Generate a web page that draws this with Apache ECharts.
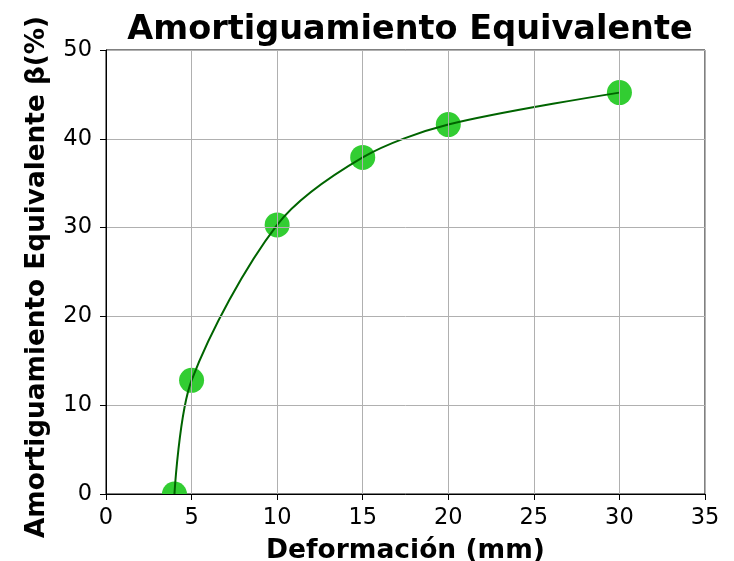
<!DOCTYPE html>
<html>
<head>
<meta charset="utf-8">
<script src="https://cdn.jsdelivr.net/npm/echarts@6/dist/echarts.min.js"></script>
<style>html,body{margin:0;padding:0;background:#fff}#c{width:734px;height:561px}</style>
</head>
<body>
<div id="c"></div>
<script>
const titleText = 'Amortiguamiento Equivalente';
const xName = 'Deformación (mm)';
const yName = 'Amortiguamiento Equivalente β(%)';
const deformacion = [4, 5, 10, 15, 20, 30];
const amortiguamiento = [0, 12.8, 30.3, 37.9, 41.6, 45.2];
const xTicks = [0, 5, 10, 15, 20, 25, 30, 35];
const yTicks = [0, 10, 20, 30, 40, 50];

const pts = deformacion.map((x, i) => [x, amortiguamiento[i]]);
const FONT = 'DejaVu Sans';
const chart = echarts.init(document.getElementById('c'), null, {renderer: 'canvas'});
const grid = {left: 106, right: 29, top: 50, bottom: 67};
chart.setOption({
  animation: false,
  backgroundColor: '#fff',
  title: {
    text: titleText, left: 405, textAlign: 'center', top: 8,
    textStyle: {fontFamily: FONT, fontWeight: 'bold', fontSize: 33.5, color: '#000'}
  },
  grid: Object.assign({show: true, borderColor: '#000', borderWidth: 1, backgroundColor: 'transparent',
    containLabel: false, outerBoundsMode: 'none'}, grid),
  xAxis: {
    type: 'value', min: xTicks[0], max: xTicks[xTicks.length - 1], interval: 5, z: 10,
    name: xName, nameLocation: 'middle', nameGap: 44,
    nameTextStyle: {fontFamily: FONT, fontWeight: 'bold', fontSize: 26.5, color: '#000'},
    axisLine: {show: true, lineStyle: {color: '#000', width: 1}},
    axisTick: {show: true, length: 6, lineStyle: {color: '#000'}},
    axisLabel: {fontFamily: FONT, fontSize: 22.5, color: '#000', margin: 13},
    splitLine: {show: true, lineStyle: {color: '#b0b0b0', width: 1}}
  },
  yAxis: {
    type: 'value', min: yTicks[0], max: yTicks[yTicks.length - 1], interval: 10, z: 10,
    name: yName, nameLocation: 'middle', nameGap: 56,
    nameTextStyle: {fontFamily: FONT, fontWeight: 'bold', fontSize: 26.3, color: '#000', padding: [0, 10, 0, 0]},
    axisLine: {show: true, lineStyle: {color: '#000', width: 1}},
    axisTick: {show: true, length: 6, lineStyle: {color: '#000'}},
    axisLabel: {fontFamily: FONT, fontSize: 22.5, color: '#000', margin: 14},
    splitLine: {show: true, lineStyle: {color: '#b0b0b0', width: 1}}
  },
  series: [
    {
      type: 'scatter', data: pts, symbol: 'circle', symbolSize: 25, z: 2,
      itemStyle: {color: '#32cd32', opacity: 1}
    },
    {
      type: 'line', data: pts, smooth: 0.3, showSymbol: false, symbol: 'none', z: 3,
      lineStyle: {color: '#006400', width: 2}
    }
  ]
});
// white band under the plot area so markers are clipped at the axis like the reference
const y0 = chart.convertToPixel({gridIndex: 0}, [0, 0])[1];
chart.setOption({
  graphic: [{
    type: 'rect', z: 5, silent: true,
    shape: {x: 0, y: y0 + 1, width: 734, height: 18},
    style: {fill: '#fff'}
  }]
});
</script>
</body>
</html>
